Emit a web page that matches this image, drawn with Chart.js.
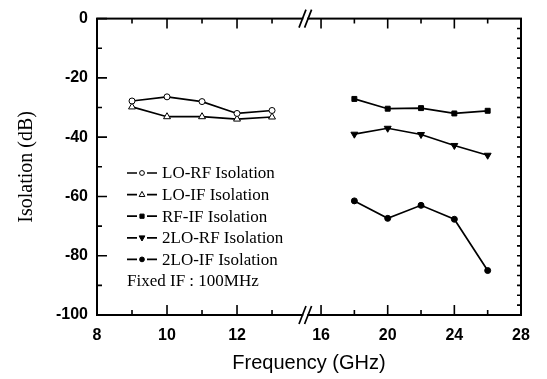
<!DOCTYPE html>
<html>
<head>
<meta charset="utf-8">
<script src="https://cdn.jsdelivr.net/npm/chart.js@4"></script>
<style>
  html, body { margin: 0; padding: 0; background: #fff; }
  #wrap { width: 547px; height: 379px; }
</style>
</head>
<body>
<div id="wrap"><canvas id="chart"></canvas></div>
<script>
// data
const leftFreq = [9, 10, 11, 12, 13];
const rightFreq = [18, 20, 22, 24, 26];
const loRf = [-27.8, -26.4, -28.0, -32.0, -31.0];
const loIf = [-29.8, -33.1, -33.1, -33.9, -33.2];
const rfIf = [-27.1, -30.4, -30.2, -32.0, -31.1];
const lo2Rf = [-39.0, -37.0, -39.1, -42.8, -46.1];
const lo2If = [-61.5, -67.4, -63.0, -67.7, -85.0];

const xLabels = [8, 10, 12, 16, 20, 24, 28];
const xMinor = [9, 11, 13, 18, 22, 26];
const yLabels = [0, -20, -40, -60, -80, -100];
const yMinor = [-10, -30, -50, -70, -90];
const note = 'Fixed IF : 100MHz';

// broken axis: 8..14 at full scale, 16..28 squeezed
const BREAK_FROM = 14.2;
const BREAK_TO = 16;
const D16 = 14.4;
const SQUEEZE = 0.476;
const BREAK_MARK = 13.95;
function bx(v) {
    return v <= BREAK_FROM ? v : D16 + (v - BREAK_TO) * SQUEEZE;
}

function pts(freq, vals) {
    return freq.map((f, i) => ({ x: bx(f), y: vals[i] }));
}

function series(label, freq, vals, style, fill, radius, rot) {
    return {
        label: label,
        data: pts(freq, vals),
        showLine: true,
        borderColor: '#000',
        borderWidth: 1.7,
        pointStyle: style,
        pointRadius: radius,
        pointRotation: rot || 0,
        pointBackgroundColor: fill,
        pointBorderColor: '#000',
        pointBorderWidth: 1
    };
}

const datasets = [
    series('LO-RF Isolation', leftFreq, loRf, 'circle', '#fff', 3),
    series('LO-IF Isolation', leftFreq, loIf, 'triangle', '#fff', 4),
    series('RF-IF Isolation', rightFreq, rfIf, 'rect', '#000', 3.5),
    series('2LO-RF Isolation', rightFreq, lo2Rf, 'triangle', '#000', 4, 180),
    series('2LO-IF Isolation', rightFreq, lo2If, 'circle', '#000', 3)
];

function drawMarker(ctx, ds, x, y) {
    const r = ds.pointRadius * 0.8;
    ctx.save();
    ctx.fillStyle = ds.pointBackgroundColor;
    ctx.strokeStyle = '#000';
    ctx.lineWidth = 1;
    ctx.beginPath();
    if (ds.pointStyle === 'circle') {
        ctx.arc(x, y, r, 0, Math.PI * 2);
    } else if (ds.pointStyle === 'rect') {
        const s = r * 0.75;
        ctx.rect(x - s, y - s, 2 * s, 2 * s);
    } else {
        const dir = ds.pointRotation ? -1 : 1;
        ctx.moveTo(x, y - dir * r);
        ctx.lineTo(x + r * 0.9, y + dir * r * 0.6);
        ctx.lineTo(x - r * 0.9, y + dir * r * 0.6);
        ctx.closePath();
    }
    ctx.fill();
    ctx.stroke();
    ctx.restore();
}

// frame with inward ticks and the axis break
const framePlugin = {
    id: 'frame',
    afterDraw(chart) {
        const ctx = chart.ctx;
        const a = chart.chartArea;
        const xs = chart.scales.x, ys = chart.scales.y;
        ctx.save();
        ctx.strokeStyle = '#000';
        ctx.lineWidth = 2;
        ctx.strokeRect(a.left, a.top, a.right - a.left, a.bottom - a.top);

        ctx.lineWidth = 1.6;
        ctx.beginPath();
        const xt = (v, len) => {
            const px = xs.getPixelForValue(bx(v));
            ctx.moveTo(px, a.bottom); ctx.lineTo(px, a.bottom - len);
            ctx.moveTo(px, a.top); ctx.lineTo(px, a.top + len);
        };
        xLabels.forEach(v => xt(v, 10));
        xMinor.forEach(v => xt(v, 5));
        const yt = (v, len) => {
            const py = ys.getPixelForValue(v);
            ctx.moveTo(a.left, py); ctx.lineTo(a.left + len, py);
        };
        yLabels.forEach(v => yt(v, 10));
        yMinor.forEach(v => yt(v, 5));
        for (let i = 1; i < 30; i++) {
            const py = ys.getPixelForValue(-100 * i / 30);
            ctx.moveTo(a.right, py); ctx.lineTo(a.right - 4, py);
        }
        ctx.stroke();

        // break marks
        const bxp = xs.getPixelForValue(BREAK_MARK);
        [a.top, a.bottom].forEach(y => {
            ctx.fillStyle = '#fff';
            ctx.fillRect(bxp - 2, y - 2, 4, 4);
            ctx.lineWidth = 1.7;
            ctx.beginPath();
            [-2.8, 2.8].forEach(o => {
                ctx.moveTo(bxp + o - 3.5, y + 9);
                ctx.lineTo(bxp + o + 3.5, y - 9);
            });
            ctx.stroke();
        });
        ctx.restore();
    }
};

// legend inside the plot: short dash, marker, short dash
const legendPlugin = {
    id: 'insideLegend',
    afterDraw(chart) {
        const ctx = chart.ctx;
        const mx = 142, tx = 162;
        let y = 173;
        ctx.save();
        ctx.font = '17px "Liberation Serif"';
        ctx.fillStyle = '#000';
        ctx.textBaseline = 'middle';
        chart.data.datasets.forEach(ds => {
            ctx.strokeStyle = '#000';
            ctx.lineWidth = 1.7;
            ctx.beginPath();
            ctx.moveTo(mx - 15, y); ctx.lineTo(mx - 5, y);
            ctx.moveTo(mx + 5, y); ctx.lineTo(mx + 15, y);
            ctx.stroke();
            drawMarker(ctx, ds, mx, y);
            ctx.fillText(ds.label, tx, y + 1);
            y += 21.6;
        });
        ctx.fillText(note, tx - 35, y + 1);
        ctx.restore();
    }
};

const tickFont = { family: 'Liberation Sans', size: 16, weight: 'bold' };

new Chart(document.getElementById('chart'), {
    type: 'scatter',
    data: { datasets: datasets },
    options: {
        responsive: true,
        maintainAspectRatio: false,
        animation: false,
        layout: { padding: { left: 0, right: 26, top: 16, bottom: 0 } },
        plugins: { legend: { display: false }, tooltip: { enabled: false } },
        scales: {
            x: {
                type: 'linear',
                min: 8,
                max: bx(28),
                afterBuildTicks: s => { s.ticks = xLabels.map(v => ({ value: bx(v) })); },
                afterFit: s => { s.height = 64; },
                ticks: {
                    autoSkip: false,
                    maxRotation: 0,
                    callback: (v, i) => xLabels[i],
                    font: tickFont,
                    color: '#000',
                    padding: 11
                },
                grid: { display: false, drawTicks: false },
                border: { display: false },
                title: {
                    display: true,
                    text: 'Frequency (GHz)',
                    font: { family: 'Liberation Sans', size: 20 },
                    color: '#000',
                    padding: { top: 0, bottom: 4 }
                }
            },
            y: {
                min: -100,
                max: 0,
                afterBuildTicks: s => { s.ticks = yLabels.map(v => ({ value: v })); },
                afterFit: s => { s.width = 97; },
                ticks: { font: tickFont, color: '#000', padding: 9 },
                grid: { display: false, drawTicks: false },
                border: { display: false },
                title: {
                    display: true,
                    text: 'Isolation (dB)',
                    font: { family: 'Liberation Serif', size: 20 },
                    color: '#000',
                    padding: { top: 15, bottom: 0 }
                }
            }
        }
    },
    plugins: [framePlugin, legendPlugin]
});
</script>
</body>
</html>
